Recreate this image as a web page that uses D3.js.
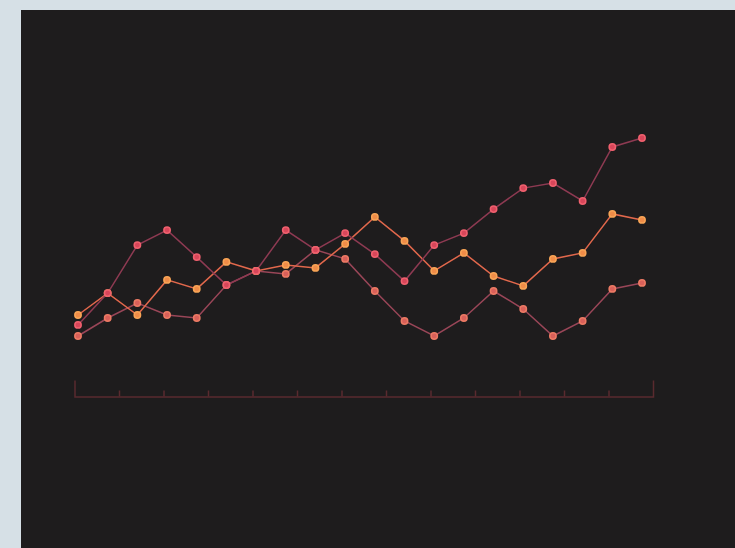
<!DOCTYPE html>
<html>
<head>
<meta charset="utf-8">
<script src="https://cdn.jsdelivr.net/npm/d3@7"></script>
<style>
  html, body { margin: 0; padding: 0; background: #d6e0e6; }
  svg { display: block; }
</style>
</head>
<body>
<div id="chart"></div>
<script>
var steps = d3.range(20);
var axisTicks = [1,2,3,4,5,6,7,8,9,10,11,12];
var seriesNames = ["coral", "orange", "red"];
var coralValues = [20, 26, 31, 27, 26, 37, 41.7, 40.7, 48.7, 45.7, 35, 25, 20, 26, 35, 29, 20, 25, 35.7, 37.7];
var orangeValues = [27, 34.3, 27, 38.7, 35.7, 44.7, 41.7, 43.7, 42.7, 50.7, 59.7, 51.7, 41.7, 47.7, 40, 36.7, 45.7, 47.7, 60.7, 58.7];
var redValues = [23.7, 34.3, 50.3, 55.3, 46.3, 37, 41.7, 55.3, 48.7, 54.3, 47.3, 38.3, 50.3, 54.3, 62.3, 69.3, 71, 65, 83, 86];

var width = 735, height = 548;

var svg = d3.select("#chart")
  .append("svg")
  .attr("width", width)
  .attr("height", height);

// dark panel
svg.append("rect")
  .attr("x", 21)
  .attr("y", 10)
  .attr("width", width - 21)
  .attr("height", height - 10)
  .attr("fill", "#1e1c1d");

var x = d3.scaleLinear()
  .domain([0, 19])
  .range([78, 642]);
var y = d3.scaleLinear()
  .domain([0, 100])
  .range([396, 96]);

// axis with hidden labels, ticks pointing up
var xAxisScale = d3.scaleLinear()
  .domain([0, 13])
  .range([74.5, 653]);
var axis = svg.append("g")
  .attr("transform", "translate(0,396.5)")
  .call(d3.axisTop(xAxisScale)
    .tickValues(axisTicks)
    .tickSizeInner(6)
    .tickSizeOuter(16)
    .tickFormat(""));
axis.select(".domain").attr("stroke", "#5a2a2f").attr("stroke-width", 1.5);
axis.selectAll(".tick line").attr("stroke", "#5a2a2f").attr("stroke-width", 1.5);

var lineColor = d3.scaleOrdinal()
  .domain(seriesNames)
  .range(["#9a4658", "#e2684c", "#8e3a52"]);
var dotFill = d3.scaleOrdinal()
  .domain(seriesNames)
  .range(["#d9605a", "#f08c48", "#d8465a"]);
var dotStroke = d3.scaleOrdinal()
  .domain(seriesNames)
  .range(["#ec7a64", "#f8a456", "#f0606e"]);

var series = [
  {name: "coral", values: coralValues},
  {name: "orange", values: orangeValues},
  {name: "red", values: redValues}
];

var line = d3.line()
  .x((d, i) => x(steps[i]))
  .y(d => y(d));

series.forEach(function(s) {
  svg.append("path")
    .datum(s.values)
    .attr("fill", "none")
    .attr("stroke", lineColor(s.name))
    .attr("stroke-width", 1.5)
    .attr("d", line);
});

series.forEach(function(s) {
  svg.append("g")
    .selectAll("circle")
    .data(s.values)
    .enter().append("circle")
    .attr("cx", (d, i) => x(steps[i]))
    .attr("cy", d => y(d))
    .attr("r", 3.2)
    .attr("fill", dotFill(s.name))
    .attr("stroke", dotStroke(s.name))
    .attr("stroke-width", 1.5);
});
</script>
</body>
</html>
